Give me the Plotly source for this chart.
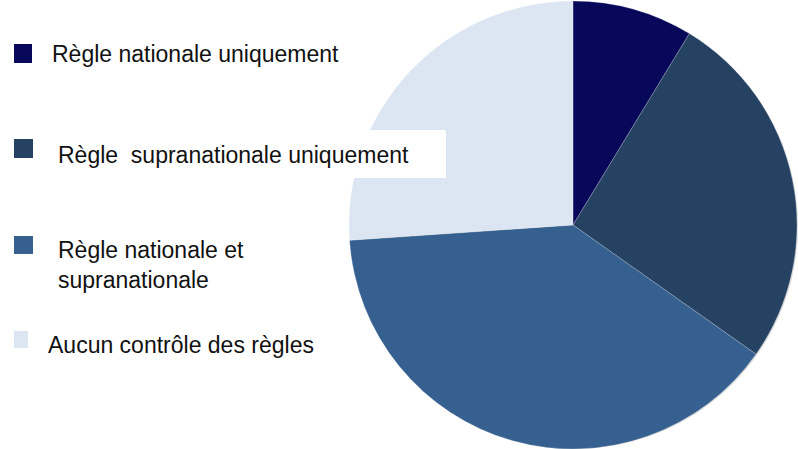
import plotly.graph_objects as go

labels = [
    "Règle nationale uniquement",
    "Règle  supranationale uniquement",
    "Règle nationale et<br>supranationale",
    "Aucun contrôle des règles",
]
values = [2, 6, 9, 6]
colors = ["#08085a", "#264263", "#36608f", "#dce6f2"]

W, H = 798, 449
FONT = "Liberation Sans, Arial, sans-serif"


def px_x(x):
    return x / W


def px_y(y):
    # y measured from the top of the page
    return 1 - y / H


fig = go.Figure()

# soft shadow under the pie
fig.add_trace(
    go.Pie(
        values=[sum(values)],
        marker=dict(colors=["rgba(0,0,0,0.16)"], line=dict(width=0)),
        textinfo="none",
        hoverinfo="skip",
        showlegend=False,
        sort=False,
        domain=dict(x=[px_x(352), px_x(798)], y=[px_y(449), px_y(3)]),
    )
)

fig.add_trace(
    go.Pie(
        labels=labels,
        values=values,
        marker=dict(colors=colors, line=dict(color="rgba(255,255,255,0.35)", width=0.6)),
        textinfo="none",
        sort=False,
        direction="clockwise",
        rotation=0,
        showlegend=False,
        domain=dict(x=[px_x(348), px_x(798)], y=[px_y(449), px_y(1)]),
    )
)

# hand-placed legend, as in the original slide
legend_pos = [
    # square x0, y0, x1, y1, text x, text y
    (14, 44, 32, 63, 50, 54),
    (14, 139, 33, 158, 56, 155),
    (14, 236, 33, 254, 56, 265),
    (14, 331, 28, 348, 46, 345),
]

shapes = [
    # white text box of the second label, covering part of the pie
    dict(
        type="rect", xref="paper", yref="paper", layer="above",
        x0=px_x(45), x1=px_x(446), y0=px_y(178), y1=px_y(130),
        fillcolor="white", line=dict(width=0),
    )
]
annotations = []
for lab, col, (sx0, sy0, sx1, sy1, tx, ty) in zip(labels, colors, legend_pos):
    shapes.append(
        dict(
            type="rect", xref="paper", yref="paper", layer="above",
            x0=px_x(sx0), x1=px_x(sx1), y0=px_y(sy1), y1=px_y(sy0),
            fillcolor=col, line=dict(width=0),
        )
    )
    annotations.append(
        dict(
            text=lab, xref="paper", yref="paper", x=px_x(tx), y=px_y(ty),
            xanchor="left", yanchor="middle", showarrow=False, align="left",
            font=dict(family=FONT, size=23, color="#111111"),
        )
    )

fig.update_layout(
    width=W,
    height=H,
    margin=dict(l=0, r=0, t=0, b=0),
    paper_bgcolor="white",
    plot_bgcolor="white",
    shapes=shapes,
    annotations=annotations,
)

fig.write_html(
    "out.html",
    config={"displayModeBar": False},
    post_script="document.body.style.margin = '0';",
)
